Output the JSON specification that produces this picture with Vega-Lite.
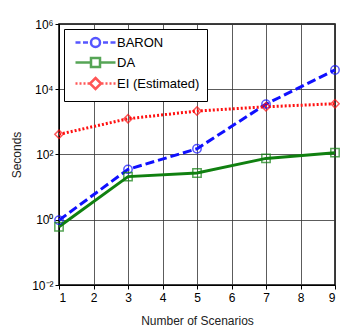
{
  "$schema": "https://vega.github.io/schema/vega-lite/v6.json",
  "width": 276,
  "height": 261,
  "autosize": {"type": "none"},
  "padding": {"left": 59, "top": 24, "right": 5, "bottom": 46},
  "config": {
    "font": "Liberation Sans",
    "view": {"stroke": "black", "strokeWidth": 1.5},
    "axis": {
      "domainColor": "black", "tickColor": "black", "gridColor": "#333", "gridOpacity": 0.8,
      "labelColor": "black", "titleColor": "#222", "labelFontSize": 12, "titleFontSize": 12,
      "titleFontWeight": "normal", "tickSize": 4
    }
  },
  "data": {"values": [
    {"n": 1, "s": 0.97, "series": "BARON"},
    {"n": 3, "s": 35, "series": "BARON"},
    {"n": 5, "s": 150, "series": "BARON"},
    {"n": 7, "s": 3500, "series": "BARON"},
    {"n": 9, "s": 39000, "series": "BARON"},
    {"n": 1, "s": 0.61, "series": "DA"},
    {"n": 3, "s": 21, "series": "DA"},
    {"n": 5, "s": 27, "series": "DA"},
    {"n": 7, "s": 76, "series": "DA"},
    {"n": 9, "s": 114, "series": "DA"},
    {"n": 1, "s": 415, "series": "EI (Estimated)"},
    {"n": 3, "s": 1250, "series": "EI (Estimated)"},
    {"n": 5, "s": 2150, "series": "EI (Estimated)"},
    {"n": 7, "s": 2900, "series": "EI (Estimated)"},
    {"n": 9, "s": 3600, "series": "EI (Estimated)"}
  ]},
  "encoding": {
    "x": {"field": "n", "type": "quantitative",
      "scale": {"domain": [1, 9], "nice": false},
      "axis": {"values": [1,2,3,4,5,6,7,8,9], "grid": true, "title": "Number of Scenarios", "titlePadding": 12, "labelPadding": 3}},
    "y": {"field": "s", "type": "quantitative",
      "scale": {"type": "log", "domain": [0.01, 1000000], "nice": false},
      "axis": {"values": [0.01, 1, 100, 10000, 1000000], "grid": true, "title": "Seconds", "titlePadding": 8,
        "labelExpr": "datum.value < 0.1 ? '10⁻²' : datum.value < 10 ? '10⁰' : datum.value < 1000 ? '10²' : datum.value < 100000 ? '10⁴' : '10⁶'"}}
  },
  "layer": [
    {"transform": [{"filter": "datum.series == 'BARON'"}],
     "mark": {"type": "line", "strokeWidth": 3, "color": "#1010ff", "strokeDash": [9, 4]}, "encoding": {}},
    {"transform": [{"filter": "datum.series == 'DA'"}],
     "mark": {"type": "line", "strokeWidth": 3, "color": "#108010"}, "encoding": {}},
    {"transform": [{"filter": "datum.series == 'EI (Estimated)'"}],
     "mark": {"type": "line", "strokeWidth": 3, "color": "#ff1010", "strokeDash": [2, 2]}, "encoding": {}},
    {"transform": [{"filter": "datum.series == 'BARON'"}],
     "mark": {"type": "point", "shape": "circle", "filled": false, "size": 70, "strokeWidth": 1.5, "color": "#1010ff"}},
    {"transform": [{"filter": "datum.series == 'DA'"}],
     "mark": {"type": "point", "shape": "square", "filled": false, "size": 70, "strokeWidth": 1.5, "color": "#108010"}},
    {"transform": [{"filter": "datum.series == 'EI (Estimated)'"}],
     "mark": {"type": "point", "shape": "diamond", "filled": false, "size": 70, "strokeWidth": 1.5, "color": "#ff1010"}},
    {"transform": [{"filter": "datum.n > 100"}],
     "mark": {"type": "point", "filled": false, "size": 100, "strokeWidth": 2.5},
     "encoding": {
       "color": {"field": "series", "type": "nominal",
         "scale": {"domain": ["BARON", "DA", "EI (Estimated)"], "range": ["#1010ff", "#108010", "#ff1010"]},
         "legend": {"title": null, "orient": "top-left", "offset": 5, "strokeColor": "black", "fillColor": "white",
           "padding": 7, "labelFontSize": 13, "rowPadding": 1, "symbolSize": 100, "symbolStrokeWidth": 2.5,
           "symbolOffset": 18, "labelOffset": 15}},
       "shape": {"field": "series", "type": "nominal",
         "scale": {"domain": ["BARON", "DA", "EI (Estimated)"], "range": [
           "M-4,0H-3 M-2.5,0H-1.5 M-1.1,0H-0.9 M0.9,0A0.9,0.9 0 1,1 -0.9,0A0.9,0.9 0 1,1 0.9,0 M0.9,0H1.1 M1.5,0H2.5 M3,0H4",
           "M-4,0H-0.9 M-0.9,-0.9H0.9V0.9H-0.9Z M0.9,0H4",
           "M-4,0H-3.6 M-3.2,0H-2.8 M-2.4,0H-2 M-1.6,0H-1.1 M0,-1.1L1.1,0L0,1.1L-1.1,0Z M1.1,0H1.6 M2,0H2.4 M2.8,0H3.2 M3.6,0H4"
         ]}}
     }}
  ]
}
